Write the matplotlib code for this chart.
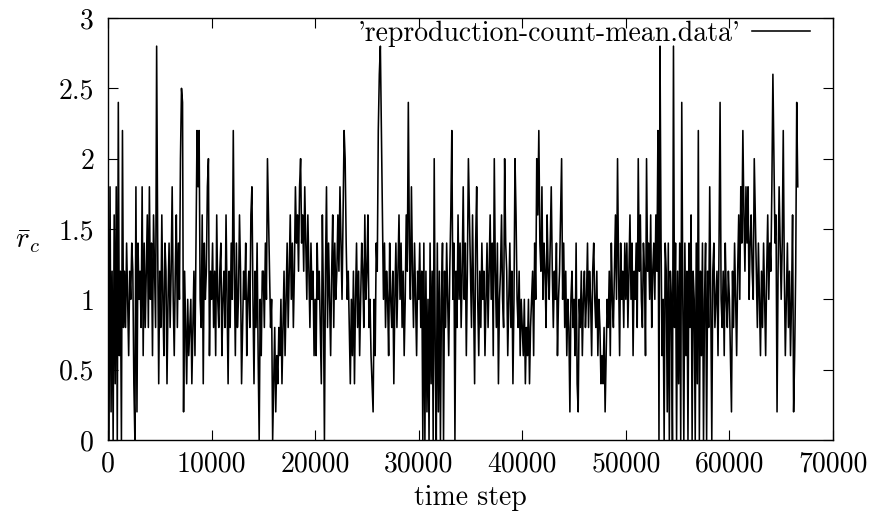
import numpy as np
import matplotlib
matplotlib.use("Agg")
import matplotlib.pyplot as plt

seg_00 = [1.0, 0.0, 1.8, 0.2, 1.2, 0.0, 1.6, 0.4, 1.8, 0.0,
          2.4, 0.6, 1.2, 0.0, 2.2, 0.8, 1.2, 0.8, 1.4, 1.0,
          0.6, 1.2, 1.0, 1.4, 1.2, 0.4, 0.0, 1.8, 0.2, 1.4,
          1.0, 1.2, 0.8, 1.8, 0.6, 1.4, 0.8, 1.2, 1.6, 0.8,
          1.8, 1.0, 1.4, 0.6, 1.6, 1.2, 0.8, 2.8, 1.4, 0.4]
seg_05 = [1.2, 0.8, 1.6, 1.0, 0.6, 1.4, 1.2, 0.4, 1.0, 1.4,
          0.8, 1.2, 1.8, 1.0, 0.6, 1.2, 1.6, 0.8, 1.4, 1.0,
          2.0, 2.5, 2.4, 0.2, 1.2, 0.8, 0.4, 1.0, 0.6, 0.8,
          1.0, 0.4, 0.8, 1.2, 0.6, 1.4, 2.2, 1.8, 2.2, 1.0,
          0.8, 1.6, 0.4, 1.4, 1.0, 1.2, 1.8, 2.0, 0.6, 1.2]
seg_10 = [1.0, 1.4, 0.8, 1.2, 0.6, 1.6, 1.0, 0.8, 1.2, 1.4,
          0.6, 1.0, 1.2, 0.8, 1.6, 1.0, 0.4, 1.2, 0.8, 1.4,
          1.0, 2.2, 1.2, 0.6, 1.4, 0.8, 1.0, 1.6, 1.2, 0.4,
          0.8, 1.2, 1.0, 1.4, 0.6, 1.0, 1.2, 0.8, 1.6, 1.8,
          1.0, 0.4, 1.2, 0.8, 1.4, 0.6, 0.0, 1.0, 0.6, 1.2]
seg_15 = [1.2, 0.8, 1.4, 1.0, 2.0, 1.6, 1.2, 0.8, 1.0, 0.0,
          0.4, 0.8, 0.2, 0.6, 0.4, 0.8, 0.6, 1.0, 0.4, 0.8,
          1.2, 0.6, 1.0, 1.4, 0.8, 1.2, 1.6, 1.0, 1.4, 0.8,
          1.2, 1.8, 1.4, 1.6, 1.2, 1.8, 2.0, 1.4, 1.6, 1.2,
          1.8, 1.4, 1.0, 1.6, 1.2, 0.8, 1.4, 1.0, 1.2, 0.6]
seg_20 = [1.0, 0.6, 1.4, 1.0, 1.2, 0.8, 0.4, 1.6, 1.0, 0.0,
          1.2, 1.8, 0.8, 1.4, 1.0, 0.6, 1.2, 1.6, 0.8, 1.4,
          1.0, 1.2, 1.6, 1.2, 1.8, 1.4, 1.0, 1.6, 2.2, 2.0,
          1.4, 1.0, 1.2, 0.8, 0.4, 1.0, 0.6, 1.2, 0.4, 1.0,
          1.4, 0.8, 1.2, 0.6, 1.0, 1.4, 1.2, 0.8, 1.6, 1.0]
seg_25 = [1.2, 1.6, 0.8, 1.0, 0.6, 0.4, 0.2, 1.0, 0.6, 1.4,
          1.2, 2.2, 2.6, 2.8, 2.2, 1.6, 1.0, 1.4, 0.8, 1.2,
          1.0, 0.6, 1.4, 1.0, 0.8, 1.2, 0.4, 1.0, 1.4, 0.8,
          1.2, 1.6, 1.0, 1.4, 0.8, 1.2, 0.6, 1.0, 1.6, 1.2,
          2.4, 1.4, 1.0, 1.8, 1.2, 0.8, 1.4, 1.0, 0.6, 1.2]
seg_30 = [1.0, 1.4, 0.8, 1.2, 0.0, 1.4, 0.0, 1.2, 0.2, 1.0,
          0.0, 1.4, 0.4, 1.2, 0.0, 2.0, 0.6, 0.0, 1.4, 0.2,
          1.2, 0.0, 1.0, 1.4, 0.0, 1.2, 0.8, 1.4, 1.0, 0.6,
          1.2, 1.6, 2.2, 1.0, 1.4, 0.0, 1.2, 0.8, 1.6, 1.0,
          1.4, 0.8, 1.2, 1.8, 1.0, 1.4, 0.6, 1.2, 2.0, 1.6]
seg_35 = [1.2, 0.8, 1.6, 1.0, 0.4, 1.4, 1.8, 1.0, 0.6, 1.2,
          0.8, 1.4, 1.0, 1.2, 0.6, 1.0, 1.4, 0.8, 1.2, 1.6,
          1.0, 1.4, 0.6, 2.0, 1.2, 0.8, 1.4, 0.4, 1.0, 1.2,
          1.6, 1.0, 0.8, 2.0, 1.4, 1.2, 0.6, 1.0, 1.4, 0.8,
          1.2, 0.4, 1.0, 2.0, 1.6, 1.0, 0.8, 1.2, 0.6, 1.0]
seg_40 = [0.8, 0.6, 1.0, 0.4, 0.8, 0.6, 1.0, 0.4, 0.8, 1.0,
          1.2, 0.6, 1.4, 1.0, 2.0, 1.6, 2.2, 1.4, 1.2, 1.8,
          1.0, 1.4, 1.2, 0.8, 1.6, 1.2, 1.0, 1.4, 1.8, 1.2,
          0.8, 1.2, 1.0, 1.4, 0.6, 1.0, 1.2, 1.6, 2.0, 1.0,
          1.4, 0.8, 1.2, 0.6, 1.0, 0.8, 0.2, 1.0, 1.2, 0.8]
seg_45 = [1.0, 0.6, 1.4, 0.4, 0.2, 1.0, 0.8, 1.2, 0.6, 1.0,
          1.2, 0.8, 1.0, 1.4, 0.8, 1.2, 1.0, 0.6, 1.2, 1.4,
          1.0, 0.8, 1.2, 0.6, 1.0, 0.8, 0.4, 0.6, 0.4, 0.8,
          0.2, 0.6, 1.0, 0.8, 1.2, 0.6, 1.4, 1.0, 0.8, 1.2,
          1.6, 1.0, 2.0, 1.2, 0.6, 1.4, 1.0, 1.2, 0.8, 1.4]
seg_50 = [1.0, 1.4, 0.8, 1.2, 1.6, 1.0, 1.4, 0.6, 1.2, 1.0,
          1.4, 0.8, 2.0, 1.2, 1.6, 1.0, 0.8, 1.4, 1.2, 0.6,
          2.0, 1.2, 1.4, 1.0, 1.6, 0.8, 1.2, 1.4, 1.0, 1.6,
          1.2, 2.2, 0.0, 2.8, 1.4, 0.6, 1.0, 0.0, 1.4, 1.2,
          0.2, 1.4, 0.0, 1.2, 1.0, 0.0, 2.8, 0.8, 1.4, 0.0]
seg_55 = [1.2, 0.4, 1.4, 0.0, 2.4, 1.0, 0.0, 1.4, 0.6, 1.2,
          0.0, 1.4, 0.8, 1.6, 0.0, 1.2, 1.0, 0.0, 1.4, 0.4,
          2.2, 0.0, 1.2, 0.6, 1.4, 0.0, 1.0, 1.4, 0.0, 1.2,
          0.8, 1.8, 1.0, 0.0, 1.2, 1.4, 0.8, 1.0, 1.2, 0.6,
          1.4, 2.4, 1.0, 0.8, 1.2, 0.6, 1.4, 1.0, 0.8, 1.2]
seg_60 = [1.0, 0.6, 0.2, 1.2, 0.8, 1.4, 1.0, 0.6, 1.2, 1.6,
          1.0, 1.8, 1.4, 2.2, 1.6, 1.2, 1.8, 1.4, 1.8, 1.0,
          1.4, 1.6, 1.2, 1.0, 2.0, 1.6, 1.2, 0.8, 1.4, 1.0,
          0.6, 1.2, 0.8, 1.4, 1.0, 0.6, 1.2, 1.6, 1.0, 1.4,
          1.2, 1.8, 2.6, 2.0, 1.4, 1.6, 0.2, 1.2, 1.8, 1.4]
seg_65 = [1.0, 1.4, 2.2, 1.2, 0.6, 1.0, 1.4, 0.8, 1.2, 0.6,
          1.0, 1.6, 0.2, 0.6, 1.2, 2.4, 1.8]

rc_mean = np.array(seg_00 + seg_05 + seg_10 + seg_15 + seg_20 + seg_25 + seg_30
                   + seg_35 + seg_40 + seg_45 + seg_50 + seg_55 + seg_60 + seg_65)
steps = np.arange(len(rc_mean)) * 100

xticks = [0, 10000, 20000, 30000, 40000, 50000, 60000, 70000]
yticks = [0, 0.5, 1, 1.5, 2, 2.5, 3]
yticklabels = ["0", "0.5", "1", "1.5", "2", "2.5", "3"]

plt.rcParams["font.family"] = "cmr10"
plt.rcParams["mathtext.fontset"] = "cm"
plt.rcParams["font.size"] = 20

fig = plt.figure(figsize=(8.77, 5.17), dpi=100)
ax = fig.add_axes([0.1231, 0.1489, 0.8267, 0.8163])

ax.plot(steps, rc_mean, color="black", lw=1.15,
        label="'reproduction-count-mean.data'")

ax.set_xlim(0, 70000)
ax.set_ylim(0, 3)
ax.set_xticks(xticks)
ax.set_xticklabels([str(t) for t in xticks])
ax.set_yticks(yticks)
ax.set_yticklabels(yticklabels)
ax.tick_params(direction="in", length=7, width=0.8, top=True, right=True)
ax.tick_params(axis="y", pad=10)
ax.tick_params(axis="x", pad=8)
for s in ax.spines.values():
    s.set_linewidth(1.0)

ax.set_xlabel("time step", labelpad=5)
fig.text(0.032, 0.532, r"$\bar{r}_c$", fontsize=21, ha="center", va="center")

ax.legend(loc="upper right", bbox_to_anchor=(0.972, 1.0), frameon=False,
          markerfirst=False, handlelength=2.1, handletextpad=0.4,
          borderaxespad=0.0, borderpad=0.1)

fig.savefig("out.png", dpi=100)
